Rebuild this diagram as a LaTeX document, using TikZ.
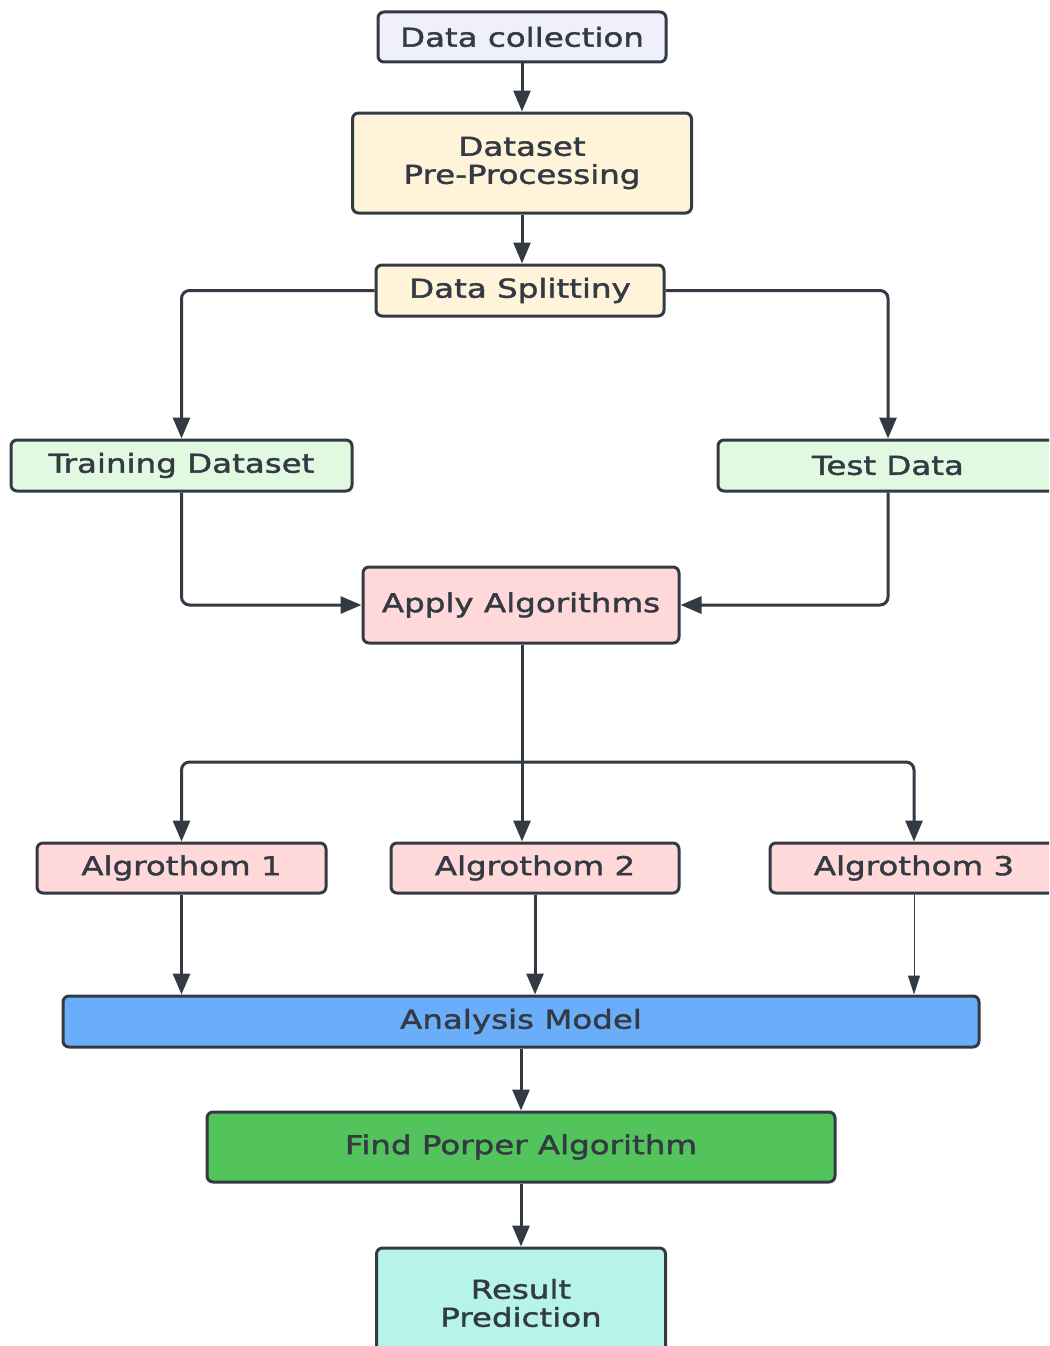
\documentclass[tikz,border=0pt]{standalone}
\usepackage{fontspec}
\setmainfont{DejaVu Sans}[FakeStretch=1.25, FakeBold=1.6]
\usetikzlibrary{arrows.meta}
\definecolor{ink}{HTML}{333A44}
\definecolor{lav}{HTML}{F0F0FC}
\definecolor{cream}{HTML}{FFF3D9}
\definecolor{mint}{HTML}{E1F9E1}
\definecolor{pink}{HTML}{FFD9DA}
\definecolor{sky}{HTML}{6AAEFA}
\definecolor{leaf}{HTML}{53C45B}
\definecolor{aqua}{HTML}{B6F4EA}
\begin{document}
\begin{tikzpicture}[x=1pt,y=-1pt,
  box/.style={draw=ink, line width=3pt, rounded corners=6pt, text=ink,
    font=\fontsize{26}{28}\selectfont, inner sep=0pt, align=center},
  conn/.style={draw=ink, line width=3pt, rounded corners=8pt,
    -{Triangle[width=17pt,length=21pt]}},
  thinconn/.style={draw=ink, line width=1pt,
    -{Triangle[width=12pt,length=19pt]}}]
\useasboundingbox (0,0) rectangle (1049,1346);
\clip (0,0) rectangle (1049,1346);
\node[box, fill=lav, minimum width=288pt, minimum height=50pt] (dc) at (522,37) {Data collection};
\node[box, fill=cream, minimum width=339pt, minimum height=100pt] (pp) at (522,163) {Dataset\\Pre-Processing};
\node[box, fill=cream, minimum width=288pt, minimum height=51pt] (ds) at (520,290.5) {Data Splittiny};
\node[box, fill=mint, minimum width=341pt, minimum height=51pt] (tr) at (181.5,465.5) {Training Dataset};
\node[box, fill=mint, minimum width=340pt, minimum height=51pt] (te) at (888,465.5) {Test Data};
\node[box, fill=pink, minimum width=316pt, minimum height=76pt] (ap) at (521,605) {Apply Algorithms};
\node[box, fill=pink, minimum width=289pt, minimum height=50pt] (a1) at (181.5,868) {Algrothom 1};
\node[box, fill=pink, minimum width=288pt, minimum height=50pt] (a2) at (535,868) {Algrothom 2};
\node[box, fill=pink, minimum width=288pt, minimum height=50pt] (a3) at (914,868) {Algrothom 3};
\node[box, fill=sky, minimum width=916pt, minimum height=51pt] (am) at (521,1021.5) {Analysis Model};
\node[box, fill=leaf, minimum width=628pt, minimum height=70pt] (fp) at (521,1147) {Find Porper Algorithm};
\node[box, fill=aqua, minimum width=289pt, minimum height=110pt] (rp) at (521,1303) {Result\\Prediction};
\coordinate (br) at (522,762);
\draw[conn] (dc.south) -- (pp.north);
\draw[conn] (pp.south) -- (pp.south |- ds.north);
\draw[conn] (ds.west) -| (tr.north);
\draw[conn] (ds.east) -| (te.north);
\draw[conn] (tr.south) |- (ap.west);
\draw[conn] (te.south) |- (ap.east);
\draw[conn] (ap.south -| br) -- (br |- a2.north);
\draw[conn] (br) -| (a1.north);
\draw[conn] (br) -| (a3.north);
\draw[conn] (a1.south) -- (a1.south |- am.north);
\draw[conn] (a2.south) -- (a2.south |- am.north);
\draw[thinconn] (a3.south) -- (a3.south |- am.north);
\draw[conn] (am.south) -- (fp.north);
\draw[conn] (fp.south) -- (rp.north);
\end{tikzpicture}
\end{document}
